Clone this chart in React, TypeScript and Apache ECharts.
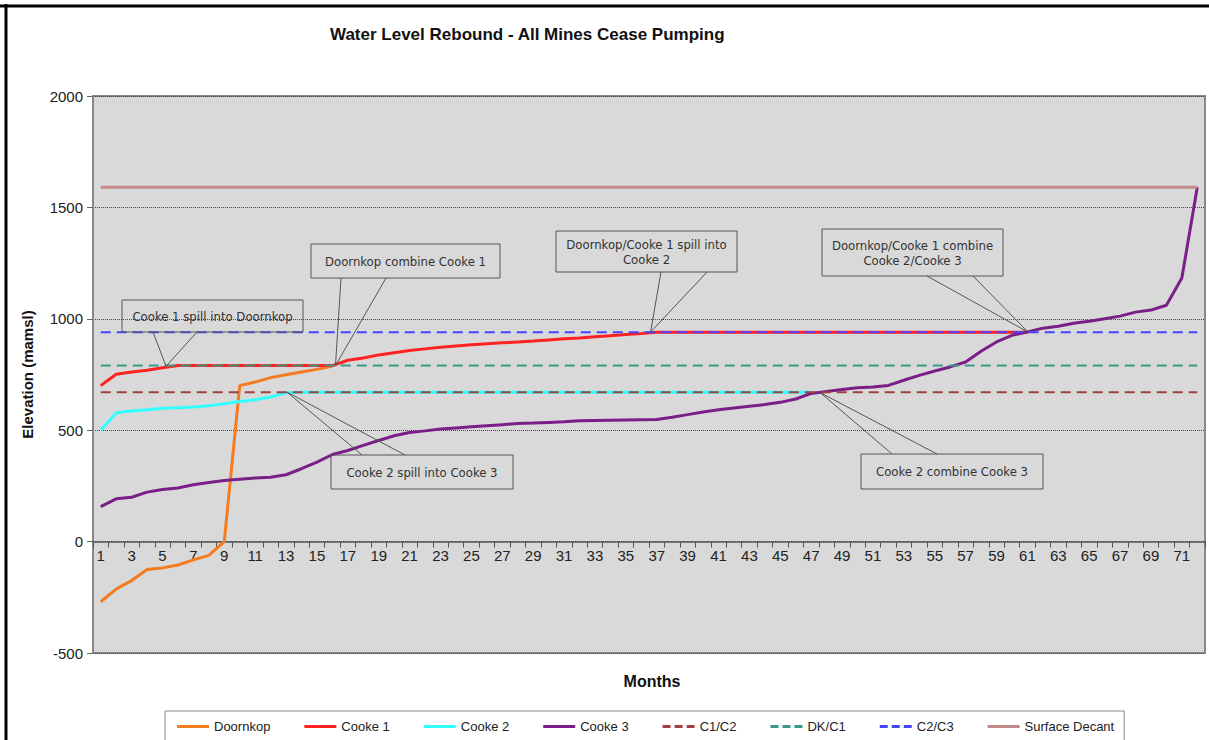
import React, { useEffect, useRef } from "react";
import * as echarts from "echarts";

const months = [
  "1","2","3","4","5","6","7","8","9","10","11","12","13","14","15","16","17","18",
  "19","20","21","22","23","24","25","26","27","28","29","30","31","32","33","34","35","36",
  "37","38","39","40","41","42","43","44","45","46","47","48","49","50","51","52","53","54",
  "55","56","57","58","59","60","61","62","63","64","65","66","67","68","69","70","71","72",
];

const doornkop = [-270, -213, -175, -125, -118, -105, -82, -62, 0, 700, 716, 736, 749, 761, 773, 788];

const cooke1 = [
  700, 751, 761, 769, 780, 790, 790, 790, 790, 790, 790, 790, 790, 790, 790, 790,
  814, 824, 838, 848, 858, 865, 872, 878, 883, 888, 892, 896, 900, 905, 910, 914, 919, 924, 929, 934,
  940, 940, 940, 940, 940, 940, 940, 940, 940, 940, 940, 940, 940, 940, 940, 940, 940, 940, 940, 940,
  940, 940, 940, 940, 940,
];

const cooke2 = [
  499, 578, 586, 592, 598, 601, 604, 610, 619, 629, 637, 649, 668,
  670, 670, 670, 670, 670, 670, 670, 670, 670, 670, 670, 670, 670, 670, 670, 670, 670,
  670, 670, 670, 670, 670, 670, 670, 670, 670, 670, 670, 670, 670, 670, 670, 670, 670,
];

const cooke3 = [
  157, 192, 199, 222, 234, 241, 255, 265, 274, 280, 285, 289, 300, 327, 357, 391, 409, 432,
  454, 475, 490, 497, 505, 510, 515, 520, 525, 530, 532, 535, 538, 542, 544, 545, 546, 547,
  548, 558, 570, 582, 592, 600, 608, 615, 625, 640, 665, 674, 683, 691, 694, 701, 724, 746,
  766, 784, 806, 854, 896, 926, 941, 958, 967, 980, 989, 1000, 1012, 1030, 1039, 1061, 1183, 1590,
];

const levelC1C2 = 670;
const levelDKC1 = 790;
const levelC2C3 = 940;
const levelSurface = 1590;

const yTicks = { min: -500, max: 2000, interval: 500 };

const annotations = [
  { text: "Cooke 1 spill into Doornkop", box: [122, 300, 181, 32], tip: [4.23, 787], base: [153, 197], edge: "bottom" },
  { text: "Doornkop combine Cooke 1", box: [311, 244, 189, 34], tip: [15.2, 790], base: [341, 386], edge: "bottom" },
  { text: "Doornkop/Cooke 1 spill into\nCooke 2", box: [556, 231, 181, 41], tip: [35.6, 940], base: [661, 707], edge: "bottom" },
  { text: "Doornkop/Cooke 1 combine\nCooke 2/Cooke 3", box: [822, 229, 181, 47], tip: [60.05, 940], base: [927, 973], edge: "bottom" },
  { text: "Cooke 2 combine Cooke 3", box: [861, 454, 182, 35], tip: [46.6, 668], base: [892, 937], edge: "top" },
  { text: "Cooke 2 spill into Cooke 3", box: [331, 455, 182, 34], tip: [12.06, 671], base: [362, 405], edge: "top" },
];

const SANS = "'Liberation Sans', Arial, Helvetica, sans-serif";
const NARROW = "'Liberation Sans Narrow', 'DejaVu Sans Condensed', 'Liberation Sans', Arial, sans-serif";

const SOLID_ICON = "path://M0,0h32v3h-32z";
const DASH_ICON = "path://M0,0h8v3h-8z M12,0h8v3h-8z M24,0h8v3h-8z";

export default function App() {
  const ref = useRef<HTMLDivElement>(null);
  useEffect(() => {
    document.body.style.margin = "0";
    const el = ref.current!;
    const chart = echarts.init(el, null, { renderer: "svg" });
    const last = months.length - 1;
    const flat = (v: number) => [[0, v], [last, v]];
    const solid = (name: string, color: string, data: any[]) => ({
      name, type: "line", data, symbol: "none", showSymbol: false,
      lineStyle: { color, width: 3 }, itemStyle: { color }, connectNulls: false,
    });
    const dashed = (name: string, color: string, v: number) => ({
      name, type: "line", data: flat(v), symbol: "none", showSymbol: false,
      lineStyle: { color, width: 2, type: [10, 6] }, itemStyle: { color },
    });
    const plotTop = 96;
    const plotBottom = 87;
    const plotH = 740 - plotTop - plotBottom;
    const zeroOffset = (plotH * (0 - yTicks.min)) / (yTicks.max - yTicks.min);
    const option: any = {
      animation: false,
      backgroundColor: "#ffffff",
      title: {
        text: "Water Level Rebound - All Mines Cease Pumping",
        left: 325, top: 21,
        textStyle: { fontFamily: SANS, fontSize: 17, fontWeight: "bold", color: "#111" },
      },
      grid: {
        left: 93, right: 4, top: plotTop, bottom: plotBottom, show: true,
        backgroundColor: "#d9d9d9", borderColor: "#888", borderWidth: 2,
      },
      legend: {
        left: 165, top: 711,
        itemWidth: 32, itemHeight: 3, itemGap: 34,
        padding: [9, 10, 12, 12],
        borderColor: "#888", borderWidth: 1,
        textStyle: { fontFamily: SANS, fontSize: 13, color: "#222" },
        data: [
          { name: "Doornkop", icon: SOLID_ICON },
          { name: "Cooke 1", icon: SOLID_ICON },
          { name: "Cooke 2", icon: SOLID_ICON },
          { name: "Cooke 3", icon: SOLID_ICON },
          { name: "C1/C2", icon: DASH_ICON },
          { name: "DK/C1", icon: DASH_ICON },
          { name: "C2/C3", icon: DASH_ICON },
          { name: "Surface Decant", icon: SOLID_ICON },
        ],
      },
      xAxis: {
        type: "category", data: months, boundaryGap: true,
        offset: -zeroOffset,
        axisLine: { onZero: false, lineStyle: { color: "#555", width: 1.5 } },
        axisTick: { show: true, interval: 0, length: 6, lineStyle: { color: "#555" } },
        axisLabel: { interval: 1, fontFamily: SANS, fontSize: 15, color: "#222", margin: 6 },
        splitLine: { show: false },
      },
      yAxis: {
        type: "value", min: yTicks.min, max: yTicks.max, interval: yTicks.interval,
        name: "Elevation (mamsl)", nameLocation: "middle", nameGap: 58, nameRotate: 90,
        nameTextStyle: { fontFamily: SANS, fontSize: 15, fontWeight: "bold", color: "#111" },
        axisLine: { show: true, lineStyle: { color: "#888", width: 2 } },
        axisTick: { show: true, length: 6, lineStyle: { color: "#666" } },
        axisLabel: { fontFamily: SANS, fontSize: 15, color: "#222", margin: 10, formatter: (v: number) => String(v) },
        splitLine: { show: true, lineStyle: { color: "#444", type: "dotted", width: 1 } },
      },
      series: [
        solid("Doornkop", "#f47b20", doornkop),
        solid("Cooke 1", "#ff2222", cooke1),
        solid("Cooke 2", "#33ffff", cooke2),
        solid("Cooke 3", "#7a1e88", cooke3),
        dashed("C1/C2", "#a04040", levelC1C2),
        dashed("DK/C1", "#3a9a88", levelDKC1),
        dashed("C2/C3", "#4545ff", levelC2C3),
        solid("Surface Decant", "#c48a8a", flat(levelSurface)),
      ],
    };
    chart.setOption(option);

    const px = (idx: number, v: number) => {
      const i0 = Math.floor(idx);
      const f = idx - i0;
      const a = chart.convertToPixel({ gridIndex: 0 }, [i0, v]) as number[];
      const b = chart.convertToPixel({ gridIndex: 0 }, [i0 + 1, v]) as number[];
      return [a[0] + (b[0] - a[0]) * f, a[1]];
    };
    const graphics: any[] = [
      { type: "line", shape: { x1: 0, y1: 6, x2: 1209, y2: 6 }, style: { stroke: "#000", lineWidth: 3 }, z: 100 },
      { type: "line", shape: { x1: 6, y1: 4, x2: 6, y2: 740 }, style: { stroke: "#000", lineWidth: 3 }, z: 100 },
      {
        type: "text", x: 652, y: 681, z: 100,
        style: { text: "Months", fontFamily: SANS, fontSize: 16, fontWeight: "bold", fill: "#111", textAlign: "center", textVerticalAlign: "middle" },
      },
    ];
    annotations.forEach((a) => {
      const [x, y, w, h] = a.box;
      const tip = px(a.tip[0], a.tip[1]);
      const ey = a.edge === "bottom" ? y + h : y;
      graphics.push({
        type: "rect", z: 100, shape: { x, y, width: w, height: h },
        style: { fill: "none", stroke: "#555", lineWidth: 1 },
      });
      graphics.push({
        type: "polyline", z: 100,
        shape: { points: [[a.base[0], ey], tip, [a.base[1], ey]] },
        style: { fill: "none", stroke: "#555", lineWidth: 1 },
      });
      graphics.push({
        type: "text", z: 101, x: x + w / 2, y: y + h / 2,
        style: {
          text: a.text, fontFamily: NARROW, fontSize: 13, lineHeight: 15, fill: "#333",
          textAlign: "center", textVerticalAlign: "middle",
        },
      });
    });
    chart.setOption({ graphic: graphics });
    return () => chart.dispose();
  }, []);
  return <div ref={ref} style={{ width: 1209, height: 740 }} />;
}
